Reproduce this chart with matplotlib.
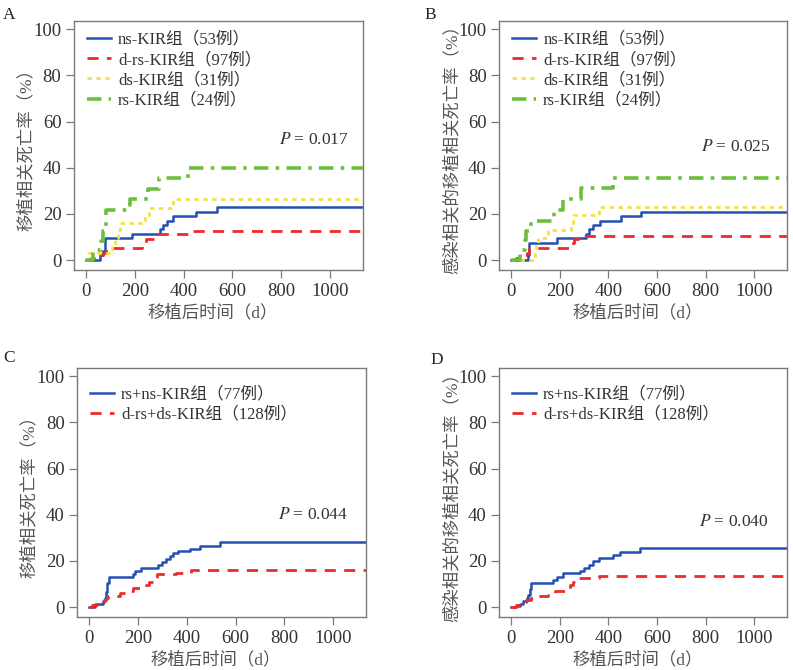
"""Cumulative incidence of transplant-related mortality by KIR group (4 panels)"""
import matplotlib.pyplot as plt

plt.rcParams['font.family'] = ['Liberation Serif', 'Noto Sans CJK SC']

END_DAY = 1200

# ---- panel A: transplant-related mortality, 4 groups
a_ns_t = [0, 57, 68, 78, 187, 303, 317, 330, 358, 449, 535]
a_ns_y = [0, 2.0, 4.0, 9.5, 11.5, 13.3, 15.2, 17.1, 18.9, 20.8, 22.8]
a_drs_t = [0, 20, 60, 70, 80, 228, 245, 280, 424]
a_drs_y = [0, 1.0, 2.1, 3.1, 5.2, 7.2, 9.3, 11.3, 12.5]
a_ds_t = [0, 8, 105, 118, 130, 139, 242, 258, 358]
a_ds_y = [0, 3.2, 6.5, 9.7, 12.9, 16.1, 19.4, 22.6, 26.4]
a_rs_t = [0, 30, 62, 70, 82, 173, 180, 255, 300, 419]
a_rs_y = [0, 4.2, 8.3, 12.5, 21.7, 24.0, 26.4, 30.9, 35.4, 40.0]

# ---- panel B: infection-related TRM, 4 groups
b_ns_t = [0, 68, 74, 189, 307, 320, 335, 365, 451, 533]
b_ns_y = [0, 2.0, 7.6, 9.5, 11.4, 13.3, 15.2, 17.0, 18.9, 20.8]
b_drs_t = [0, 20, 55, 65, 75, 246, 260, 287]
b_drs_y = [0, 1.0, 2.1, 3.1, 5.2, 7.2, 9.3, 10.4]
b_ds_t = [0, 96, 102, 110, 150, 246, 256, 362]
b_ds_y = [0, 3.2, 6.5, 9.7, 12.9, 16.1, 19.4, 23.1]
b_rs_t = [0, 35, 55, 62, 82, 178, 212, 287, 417]
b_rs_y = [0, 4.2, 8.5, 12.6, 17.0, 21.7, 26.4, 31.0, 35.6]

# ---- panel C: TRM, 2 groups
c_rsns_t = [0, 25, 36, 55, 65, 70, 75, 81, 179, 186, 213, 282, 300, 315, 330,
            343, 364, 415, 453, 535]
c_rsns_y = [0, 1.3, 1.3, 2.6, 4.0, 6.5, 10.4, 13.2, 14.3, 15.6, 17.0, 18.2,
            19.5, 20.8, 22.1, 23.4, 24.1, 25.3, 26.6, 28.1]
c_drsds_t = [0, 10, 30, 50, 60, 70, 77, 125, 148, 180, 234, 245, 265, 278, 354, 419]
c_drsds_y = [0, 0.8, 1.6, 2.3, 3.1, 3.9, 4.9, 6.3, 7.1, 8.1, 9.4, 11.0, 12.5, 14.2, 14.8, 16.2]

# ---- panel D: infection-related TRM, 2 groups
d_rsns_t = [0, 20, 37, 50, 65, 71, 76, 82, 173, 187, 214, 283, 300, 320, 337,
            362, 417, 449, 531]
d_rsns_y = [0, 0.5, 1.3, 2.6, 4.0, 5.3, 8.0, 10.5, 11.8, 13.2, 14.6, 15.8,
            17.0, 18.4, 20.0, 21.2, 22.5, 24.0, 25.4]
d_drsds_t = [0, 20, 50, 60, 80, 112, 153, 180, 242, 255, 276, 362]
d_drsds_y = [0, 0.8, 2.3, 3.1, 3.9, 4.7, 6.3, 7.1, 9.4, 11.0, 12.6, 13.4]

labels4 = ['ns-KIR组（53例）', 'd-rs-KIR组（97例）', 'ds-KIR组（31例）', 'rs-KIR组（24例）']
labels2 = ['rs+ns-KIR组（77例）', 'd-rs+ds-KIR组（128例）']
p_values = ['0.017', '0.025', '0.044', '0.040']

styles = {
    'ns': dict(color='#2450b0', lw=1.8, ls='-'),
    'drs': dict(color='#ee2a2a', lw=2.0, ls=(0, (4, 3))),
    'ds': dict(color='#f0e24a', lw=2.0, ls=(0, (1.6, 1.6))),
    'rs': dict(color='#6cbf3c', lw=2.6, ls=(0, (4, 2, 1, 2))),
}

ylab_trm = '移植相关死亡率（%）'
ylab_inf = '感染相关的移植相关死亡率（%）'

fig = plt.figure(figsize=(7.93, 6.7), dpi=100)
axA = fig.add_axes([0.0933, 0.597, 0.3644, 0.3716])
axB = fig.add_axes([0.6293, 0.597, 0.3632, 0.3716])
axC = fig.add_axes([0.0971, 0.079, 0.3644, 0.3716])
axD = fig.add_axes([0.6293, 0.079, 0.3632, 0.3716])


def draw(ax, series, labels, pval, ylab, ptxt_xy, leg_y):
    for (t, y, key), lab in zip(series, labels):
        ax.step(t + [END_DAY], y + [y[-1]], where='post', label=lab, **styles[key])
    ax.set_xlim(-50, 1135)
    ax.set_ylim(-4.3, 103.5)
    ax.set_xticks(range(0, 1001, 200))
    ax.set_yticks(range(0, 101, 20))
    for s in ax.spines.values():
        s.set_color('#7a7a7a')
        s.set_linewidth(1.0)
    ax.tick_params(colors='#7a7a7a', labelcolor='#333333', labelsize=13.5,
                   length=6, width=0.9, pad=3)
    ax.set_xlabel('移植后时间（d）', fontsize=12.5, color='#555555')
    ax.set_ylabel(ylab, fontsize=12.5, color='#555555')
    ax.xaxis.set_label_coords(0.48, -0.14)
    ax.yaxis.set_label_coords(-0.135, 0.5)
    ax.text(ptxt_xy[0], ptxt_xy[1], '$P$ = ' + pval, ha='center', va='center',
            fontsize=12.5, color='#333333', family='Liberation Serif',
            math_fontfamily='stix')
    leg = ax.legend(loc='upper left', bbox_to_anchor=(0.0, leg_y), frameon=False,
                    fontsize=12, handlelength=1.4, handletextpad=0.45,
                    labelspacing=0.25, borderaxespad=0.4)
    for txt in leg.get_texts():
        txt.set_color('#333333')


draw(axA, [(a_ns_t, a_ns_y, 'ns'), (a_drs_t, a_drs_y, 'drs'),
           (a_ds_t, a_ds_y, 'ds'), (a_rs_t, a_rs_y, 'rs')],
     labels4, p_values[0], ylab_trm, (935, 52), 1.01)
draw(axB, [(b_ns_t, b_ns_y, 'ns'), (b_drs_t, b_drs_y, 'drs'),
           (b_ds_t, b_ds_y, 'ds'), (b_rs_t, b_rs_y, 'rs')],
     labels4, p_values[1], ylab_inf, (922, 49), 1.01)
draw(axC, [(c_rsns_t, c_rsns_y, 'ns'), (c_drsds_t, c_drsds_y, 'drs')],
     labels2, p_values[2], ylab_trm, (918, 40), 0.98)
draw(axD, [(d_rsns_t, d_rsns_y, 'ns'), (d_drsds_t, d_drsds_y, 'drs')],
     labels2, p_values[3], ylab_inf, (914, 37), 0.98)

for lab, x, y in [('A', 0.004, 0.99), ('B', 0.535, 0.99),
                  ('C', 0.004, 0.478), ('D', 0.543, 0.474)]:
    fig.text(x, y, lab, fontsize=12.5, color='#222222', va='top',
             family='Liberation Serif')

fig.savefig('out.png', dpi=100)
